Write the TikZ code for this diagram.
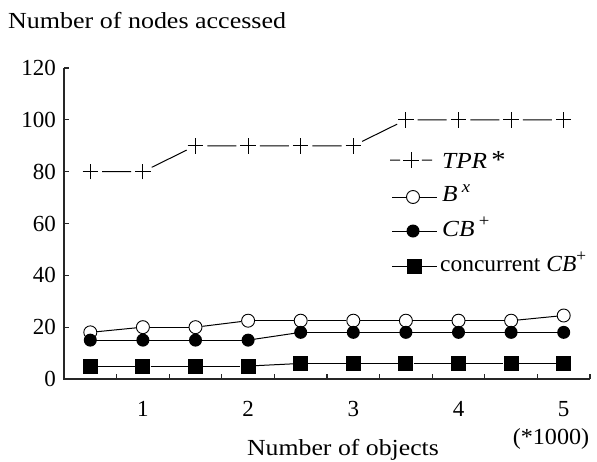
\documentclass[tikz,border=0pt]{standalone}
\usepackage{fontspec}
\setmainfont{Liberation Serif}
\usetikzlibrary{shapes.misc}
\newcommand{\mysup}[1]{\raisebox{0.42em}{\fontsize{17}{17}\selectfont #1}}
\begin{document}
\begin{tikzpicture}[x=1pt,y=-1pt,
  every node/.style={font=\fontsize{23}{27}\selectfont, inner sep=1pt},
  axisline/.style={line width=1.1pt, black!85},
  series/.style={line width=1pt},
  crossmark/.style={cross out, draw, rotate=45, minimum size=10pt, inner sep=0pt, line width=1pt},
  opencirc/.style={circle, draw, fill=white, minimum size=13pt, inner sep=0pt, line width=0.9pt},
  fillcirc/.style={circle, fill=black, minimum size=13pt, inner sep=0pt},
  fillsq/.style={rectangle, fill=black, minimum size=15pt, inner sep=0pt},
  lbl/.style={inner sep=0pt}]
\useasboundingbox (0,0) rectangle (597,461);
% titles
\node[anchor=base west, lbl] (ytitle) at (8,28) {\scalebox{1.13}[1]{Number of nodes accessed}};
\node[anchor=base, lbl] (xtitle) at (343,455) {\scalebox{1.12}[1]{Number of objects}};
\node[anchor=base, lbl] (unit) at (551,444) {\scalebox{1.05}[1]{(*1000)}};
% axes
\coordinate (ytop) at (64,68);
\coordinate (O) at (64,379);
\coordinate (xend) at (590,379);
\draw[axisline] (ytop) -- (O) -- (xend);
\foreach \k/\v in {0/0,1/20,2/40,3/60,4/80,5/100,6/120}{
  \coordinate (yt\k) at (64,{379-51.83*\k});
  \draw[axisline] (yt\k) -- ++(5,0);
  \node[anchor=east, lbl] (yl\k) at ({56},{379-51.83*\k}) {\v};
}
\foreach \k in {1,...,10}{
  \coordinate (xt\k) at ({64+52.6*\k},379);
  \draw[axisline] (xt\k) -- ++(0,-5);
}
\foreach \j in {1,...,5}{
  \node[anchor=base, lbl] (xl\j) at ({64+52.6*(2*\j-0.5)}, 416) {\j};
}
% TPR*
\foreach [count=\i] \v in {80,80,90,90,90,90,100,100,100,100}{
  \node[crossmark] (t\i) at ({64+52.6*(\i-0.5)}, {379-2.5917*\v}) {};
}
\foreach \i in {1,...,9}{
  \pgfmathtruncatemacro\j{\i+1}
  \draw[series, shorten >=4pt, shorten <=4pt] (t\i) -- (t\j);
}
% B^x
\foreach [count=\i] \v in {18,20,20,22.5,22.5,22.5,22.5,22.5,22.5,24.5}{
  \node[opencirc] (b\i) at ({64+52.6*(\i-0.5)}, {379-2.5917*\v}) {};
}
\foreach \i in {1,...,9}{
  \pgfmathtruncatemacro\j{\i+1}
  \draw[series] (b\i) -- (b\j);
}
% CB+
\foreach \i in {1,...,9}{
  \pgfmathtruncatemacro\j{\i+1}
  \pgfmathsetmacro\va{\i<5 ? 15 : 18}
  \pgfmathsetmacro\vb{\j<5 ? 15 : 18}
  \coordinate (ca\i) at ({64+52.6*(\i-0.5)}, {379-2.5917*\va});
  \coordinate (cb\i) at ({64+52.6*(\j-0.5)}, {379-2.5917*\vb});
  \draw[series] (ca\i) -- (cb\i);
}
\foreach [count=\i] \v in {15,15,15,15,18,18,18,18,18,18}{
  \node[fillcirc] (c\i) at ({64+52.6*(\i-0.5)}, {379-2.5917*\v}) {};
}
% concurrent CB+
\foreach [count=\i] \v in {5,5,5,5,6,6,6,6,6,6}{
  \node[fillsq] (s\i) at ({64+52.6*(\i-0.5)}, {379-2.5917*\v}) {};
}
\foreach \i in {1,...,9}{
  \pgfmathtruncatemacro\j{\i+1}
  \draw[series] (s\i) -- (s\j);
}
% legend
\node[crossmark] (lt) at (411,160) {};
\coordinate (lta) at (390,160);
\coordinate (ltb) at (432,160);
\draw[series, shorten >=3pt] (lta) -- (lt);
\draw[series, shorten <=3pt] (lt) -- (ltb);
\node[anchor=west, lbl] (ltx) at (442,160) {\scalebox{1.1}[1]{\textit{TPR}\,{\fontsize{26}{26}\selectfont *}}};

\coordinate (lba) at (392,197);
\coordinate (lbb) at (437,197);
\node[opencirc] (lb) at (413,197) {};
\draw[series] (lba) -- (lb) -- (lbb);
\node[anchor=west, lbl] (lbx) at (442,193) {\scalebox{1.1}[1]{\textit{B}\,\mysup{\textit{x}}}};

\coordinate (lca) at (392,231);
\coordinate (lcb) at (437,231);
\draw[series] (lca) -- (lcb);
\node[fillcirc] (lc) at (413,231) {};
\node[anchor=west, lbl] (lcx) at (442,227) {\scalebox{1.1}[1]{\textit{CB}\,\mysup{+}}};

\coordinate (lsa) at (392,266);
\coordinate (lsb) at (437,266);
\draw[series] (lsa) -- (lsb);
\node[fillsq] (ls) at (414,266) {};
\node[anchor=west, lbl] (lsx) at (440,262) {\scalebox{1.02}[1]{concurrent \textit{CB}\mysup{+}}};
\end{tikzpicture}
\end{document}
